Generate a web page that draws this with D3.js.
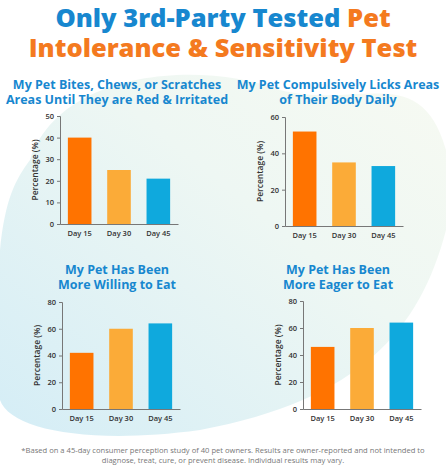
<!DOCTYPE html>
<html><head><meta charset="utf-8">
<script src="https://cdn.jsdelivr.net/npm/d3@7"></script>
<style>body{margin:0;background:#fff}</style>
</head><body>
<script>
const days = ["Day 15", "Day 30", "Day 45"];
const bitesValues = [40, 25, 21];
const licksValues = [52, 35, 33];
const willingValues = [42, 60, 64];
const eagerValues = [46, 60, 64];
const titles = [
  ["My Pet Bites, Chews, or Scratches", "Areas Until They are Red & Irritated"],
  ["My Pet Compulsively Licks Areas", "of Their Body Daily"],
  ["My Pet Has Been", "More Willing to Eat"],
  ["My Pet Has Been", "More Eager to Eat"]
];
const maxes = [50, 60, 80, 80];
const tickSteps = [10, 20, 20, 20];
const barColors = ["#ff7300", "#fbab38", "#0fa9dd"];
const blue = "#1787cf";

const svg = d3.select("body").append("svg").attr("width", 446).attr("height", 470)
  .style("font-family", "'Open Sans', sans-serif");

const defs = svg.append("defs");
const grad = defs.append("linearGradient").attr("id", "bg").attr("x1", 0).attr("y1", 1).attr("x2", 1).attr("y2", 0);
grad.append("stop").attr("offset", 0).attr("stop-color", "#d4edf6");
grad.append("stop").attr("offset", 0.6).attr("stop-color", "#eef7f3");
grad.append("stop").attr("offset", 1).attr("stop-color", "#f7faf2");
svg.append("path")
  .attr("d", "M30,160 C60,70 200,60 280,90 C360,110 420,60 446,150 L446,230 C420,330 360,400 200,430 C90,445 10,430 0,400 L0,250 C5,200 15,180 30,160 Z")
  .attr("fill", "url(#bg)");

const head = svg.append("text").attr("text-anchor", "middle").attr("font-weight", 800).attr("font-size", 25.5);
const l1 = head.append("tspan").attr("x", 223).attr("y", 27);
l1.append("tspan").attr("fill", blue).text("Only 3rd-Party Tested ");
l1.append("tspan").attr("fill", "#f47a1f").text("Pet");
head.append("tspan").attr("x", 223).attr("y", 57).attr("fill", "#f47a1f").text("Intolerance & Sensitivity Test");

const panels = [
  { vals: bitesValues, cx: 117, axisX: 60, top: 116, bottom: 224, ty: 89 },
  { vals: licksValues, cx: 338, axisX: 285, top: 117, bottom: 226, ty: 89 },
  { vals: willingValues, cx: 117, axisX: 62, top: 302, bottom: 409, ty: 274 },
  { vals: eagerValues, cx: 338, axisX: 303, top: 301, bottom: 409, ty: 274 }
];

panels.forEach((p, i) => {
  const g = svg.append("g");
  g.append("text").attr("text-anchor", "middle").attr("fill", blue)
    .attr("font-weight", 700).attr("font-size", 12.5)
    .selectAll("tspan").data(titles[i]).join("tspan")
    .attr("x", p.cx).attr("y", (d, k) => p.ty + k * 15).text(d => d);

  const x = d3.scaleBand().domain(days).range([p.axisX, p.axisX + 118]).paddingInner(0.4).paddingOuter(0.2);
  const y = d3.scaleLinear().domain([0, maxes[i]]).range([p.bottom, p.top]);

  const ya = g.append("g").attr("transform", `translate(${p.axisX},0)`)
    .call(d3.axisLeft(y).tickValues(d3.range(0, maxes[i] + 1, tickSteps[i])).tickSize(3));
  const xa = g.append("g").attr("transform", `translate(0,${p.bottom})`)
    .call(d3.axisBottom(x).tickSize(0).tickPadding(7));
  [ya, xa].forEach(a => {
    a.selectAll("path,line").attr("stroke", "#777");
    a.selectAll("text").attr("fill", "#333").attr("font-size", 7.5).attr("font-weight", 600)
      .style("font-family", "'Open Sans', sans-serif");
  });

  g.selectAll("rect").data(p.vals).join("rect")
    .attr("x", (d, k) => x(days[k])).attr("width", x.bandwidth())
    .attr("y", d => y(d)).attr("height", d => p.bottom - y(d))
    .attr("fill", (d, k) => barColors[k]);

  g.append("text").attr("transform", `translate(${p.axisX - 22},${(p.top + p.bottom) / 2}) rotate(-90)`)
    .attr("text-anchor", "middle").attr("font-size", 8.5).attr("font-weight", 600).attr("fill", "#333")
    .text("Percentage (%)");
});

svg.append("text").attr("text-anchor", "middle").attr("fill", "#777").attr("font-size", 7.6)
  .selectAll("tspan").data([
    "*Based on a 45-day consumer perception study of 40 pet owners. Results are owner-reported and not intended to",
    "diagnose, treat, cure, or prevent disease. Individual results may vary."
  ]).join("tspan").attr("x", 223).attr("y", (d, k) => 453 + k * 10).text(d => d);
</script>
</body></html>
